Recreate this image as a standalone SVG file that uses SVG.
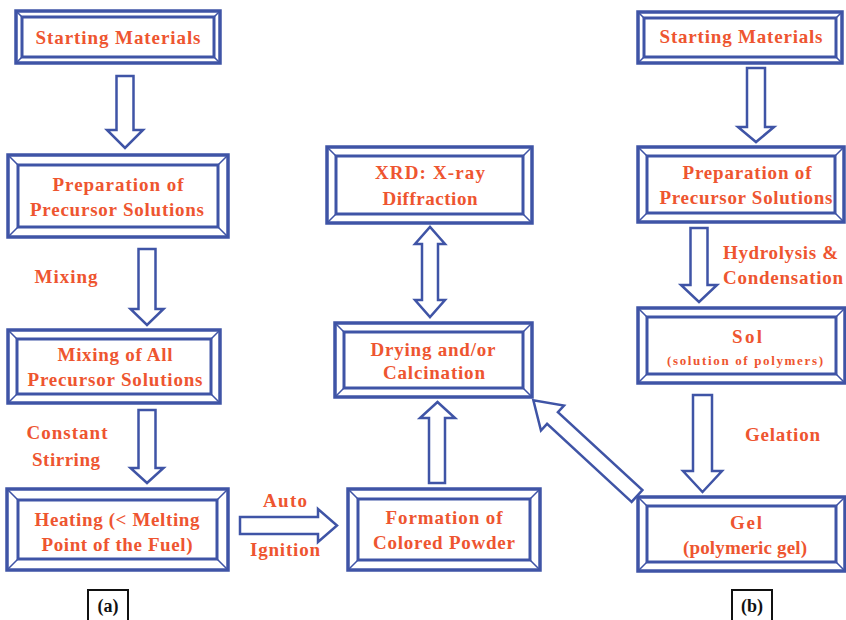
<svg xmlns="http://www.w3.org/2000/svg" width="846" height="620" viewBox="0 0 846 620">
<style>
.ob{fill:#fff;stroke:#3f54a6;stroke-width:3.5}
.ib{fill:none;stroke:#3f54a6;stroke-width:3}
.cl{stroke:#3f54a6;stroke-width:1.5}
.t{font-family:"Liberation Serif","Times New Roman",serif;font-weight:bold;font-size:19px;fill:#ee5530;text-anchor:middle}
.s{font-size:13px}
.arr{fill:#fff;stroke:#3f54a6;stroke-width:2.5;stroke-linejoin:miter}
.lb{fill:#fff;stroke:#111;stroke-width:2}
.lt{font-family:"Liberation Serif","Times New Roman",serif;font-weight:bold;font-size:18px;fill:#111;text-anchor:middle}
</style>
<rect width="846" height="620" fill="#fff"/>
<g id="connectors">
<path class="arr" d="M116.5,76 H133.5 V130 H143 L125,148 L107,130 H116.5 Z"/>
<path class="arr" d="M138.5,249 H155.5 V309 H163.5 L147,325 L130.5,309 H138.5 Z"/>
<path class="arr" d="M138.5,410 H155.5 V468 H163.5 L147,483 L130.5,468 H138.5 Z"/>
<path class="arr" d="M240,517 V534 H318 V542 L337,525.5 L318,509 V517 Z"/>
<path class="arr" d="M422,244 H415 L430,227 L445,244 H438 V300 H445 L430,317 L415,300 H422 Z"/>
<path class="arr" d="M429,483 V418 H420 L437.5,402 L455,418 H445 V483 Z"/>
<path class="arr" d="M0,-8 L115,-8 L115,-17 L141,0 L115,17 L115,8 L0,8 Z" transform="translate(637,496) rotate(-137.3)"/>
<path class="arr" d="M747,68 H765 V127 H774 L756,142 L738,127 H747 Z"/>
<path class="arr" d="M690.5,228 H707.5 V285 H717 L699,302 L681,285 H690.5 Z"/>
<path class="arr" d="M693,395 H712 V471 H722 L702.5,492 L683,471 H693 Z"/>
</g>
<g id="lbl-mixing"><text class="t" x="66" y="283" textLength="63">Mixing</text></g>
<g id="lbl-stirring"><text class="t" x="67" y="439" textLength="81">Constant</text><text class="t" x="66" y="466" textLength="68">Stirring</text></g>
<g id="lbl-auto"><text class="t" x="285" y="507" textLength="44">Auto</text><text class="t" x="285" y="556" textLength="70">Ignition</text></g>
<g id="lbl-hydro"><text class="t" x="723" y="259" style="text-anchor:start" textLength="115">Hydrolysis &amp;</text><text class="t" x="723" y="284" style="text-anchor:start" textLength="120">Condensation</text></g>
<g id="lbl-gel"><text class="t" x="745" y="441" style="text-anchor:start" textLength="75">Gelation</text></g>

<g id="a-start">
<rect class="ob" x="16" y="11" width="204" height="52"/><rect class="ib" x="22" y="17" width="192" height="40"/>
<path class="cl" d="M16,11 L22,17 M220,11 L214,17 M16,63 L22,57 M220,63 L214,57"/>
<text class="t" x="118" y="44" textLength="165">Starting Materials</text>
</g>
<g id="a-prep">
<rect class="ob" x="8" y="155" width="220" height="82"/><rect class="ib" x="18" y="165" width="200" height="62"/>
<path class="cl" d="M8,155 L18,165 M228,155 L218,165 M8,237 L18,227 M228,237 L218,227"/>
<text class="t" x="118" y="191" textLength="131">Preparation of</text>
<text class="t" x="117" y="216" textLength="174">Precursor Solutions</text>
</g>
<g id="a-mix">
<rect class="ob" x="8" y="330" width="212" height="73"/><rect class="ib" x="17" y="339" width="194" height="55"/>
<path class="cl" d="M8,330 L17,339 M220,330 L211,339 M8,403 L17,394 M220,403 L211,394"/>
<text class="t" x="115" y="361" textLength="115">Mixing of All</text>
<text class="t" x="115" y="386" textLength="175">Precursor Solutions</text>
</g>
<g id="a-heat">
<rect class="ob" x="7" y="489" width="221" height="81"/><rect class="ib" x="18" y="500" width="199" height="59"/>
<path class="cl" d="M7,489 L18,500 M228,489 L217,500 M7,570 L18,559 M228,570 L217,559"/>
<text class="t" x="117" y="526" textLength="165">Heating (&lt; Melting</text>
<text class="t" x="117" y="551" textLength="151">Point of the Fuel)</text>
</g>
<g id="xrd">
<rect class="ob" x="327" y="147" width="205" height="76"/><rect class="ib" x="336" y="156" width="187" height="58"/>
<path class="cl" d="M327,147 L336,156 M532,147 L523,156 M327,223 L336,214 M532,223 L523,214"/>
<text class="t" x="430" y="179" textLength="110">XRD: X-ray</text>
<text class="t" x="430" y="205" textLength="95">Diffraction</text>
</g>
<g id="drying">
<rect class="ob" x="335" y="323" width="197" height="74"/><rect class="ib" x="344" y="332" width="179" height="56"/>
<path class="cl" d="M335,323 L344,332 M532,323 L523,332 M335,397 L344,388 M532,397 L523,388"/>
<text class="t" x="433" y="356" textLength="125">Drying and/or</text>
<text class="t" x="434" y="379" textLength="102">Calcination</text>
</g>
<g id="formation">
<rect class="ob" x="348" y="489" width="192" height="81"/><rect class="ib" x="358" y="499" width="172" height="61"/>
<path class="cl" d="M348,489 L358,499 M540,489 L530,499 M348,570 L358,560 M540,570 L530,560"/>
<text class="t" x="444" y="524" textLength="117">Formation of</text>
<text class="t" x="444" y="549" textLength="142">Colored Powder</text>
</g>
<g id="b-start">
<rect class="ob" x="638" y="12" width="204" height="51"/><rect class="ib" x="644" y="18" width="192" height="39"/>
<path class="cl" d="M638,12 L644,18 M842,12 L836,18 M638,63 L644,57 M842,63 L836,57"/>
<text class="t" x="741" y="43" textLength="163">Starting Materials</text>
</g>
<g id="b-prep">
<rect class="ob" x="638" y="147" width="206" height="75"/><rect class="ib" x="647" y="156" width="188" height="57"/>
<path class="cl" d="M638,147 L647,156 M844,147 L835,156 M638,222 L647,213 M844,222 L835,213"/>
<text class="t" x="747" y="179" textLength="129">Preparation of</text>
<text class="t" x="746" y="204" textLength="173">Precursor Solutions</text>
</g>
<g id="sol">
<rect class="ob" x="638" y="308" width="207" height="75"/><rect class="ib" x="647" y="317" width="189" height="57"/>
<path class="cl" d="M638,308 L647,317 M845,308 L836,317 M638,383 L647,374 M845,383 L836,374"/>
<text class="t" x="747" y="343" textLength="30">Sol</text>
<text class="t s" x="745" y="365" textLength="156">(solution of polymers)</text>
</g>
<g id="gel">
<rect class="ob" x="638" y="497" width="207" height="74"/><rect class="ib" x="647" y="506" width="189" height="56"/>
<path class="cl" d="M638,497 L647,506 M845,497 L836,506 M638,571 L647,562 M845,571 L836,562"/>
<text class="t" x="746" y="529" textLength="32">Gel</text>
<text class="t" x="745" y="554" textLength="124">(polymeric gel)</text>
</g>
<g id="label-a"><rect class="lb" x="88" y="590" width="40" height="34"/><text class="lt" x="108" y="612">(a)</text></g>
<g id="label-b"><rect class="lb" x="732" y="590" width="40" height="34"/><text class="lt" x="752" y="612">(b)</text></g>
</svg>
